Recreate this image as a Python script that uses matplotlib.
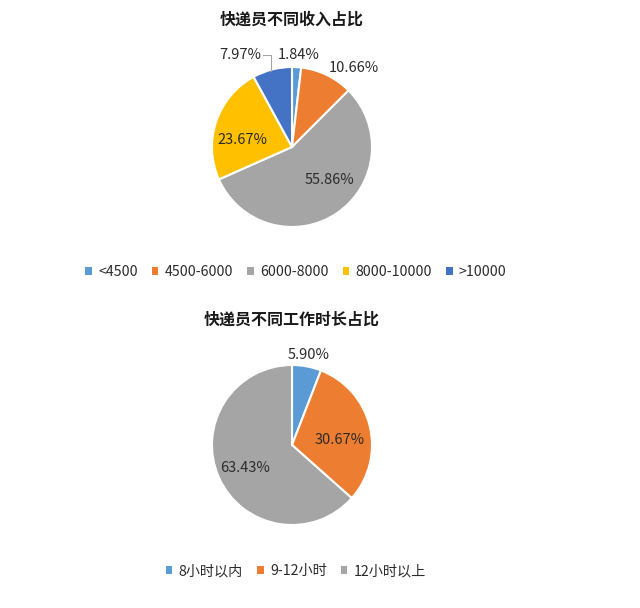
import numpy as np
import matplotlib
matplotlib.use("Agg")
import matplotlib.pyplot as plt
from matplotlib.patches import Patch

plt.rcParams['font.family'] = ['Noto Sans CJK SC', 'DejaVu Sans']

# data
income_title = "快递员不同收入占比"
income_labels = ["<4500", "4500-6000", "6000-8000", "8000-10000", ">10000"]
income_pct = [1.84, 10.66, 55.86, 23.67, 7.97]

hours_title = "快递员不同工作时长占比"
hours_labels = ["8小时以内", "9-12小时", "12小时以上"]
hours_pct = [5.90, 30.67, 63.43]

colors = ["#5B9BD5", "#ED7D31", "#A5A5A5", "#FFC000", "#4472C4"]

# label placement (radius, angle nudge in degrees) per slice
income_lbl = [(1.15, -0.7), (1.25, -12.3), (0.62, 14), (0.63, 10.3), (1.32, 15)]
hours_lbl = [(1.14, 0), (0.6, -7.6), (0.66, 2.2)]

W, H = 640, 608
TXT = "#2b2b2b"
fig = plt.figure(figsize=(W / 100, H / 100), dpi=100)


def draw_pie(cx, cy, r, values, names, lbl, title, title_y, legend_y, leader=None):
    ax = fig.add_axes([(cx - r) / W, 1 - (cy + r) / H, 2 * r / W, 2 * r / H])
    wedges, _ = ax.pie(values, colors=colors[:len(values)], startangle=90,
                       counterclock=False,
                       wedgeprops=dict(edgecolor="white", linewidth=1.5))
    ax.set_xlim(-1, 1)
    ax.set_ylim(-1, 1)
    ax.set_aspect("equal")
    for i, w in enumerate(wedges):
        mid = np.deg2rad((w.theta1 + w.theta2) / 2)
        dist, nudge = lbl[i]
        a = mid + np.deg2rad(nudge)
        x, y = dist * np.cos(a), dist * np.sin(a)
        ax.text(x, y, f"{values[i]:.2f}%", ha="center", va="center",
                fontsize=10.5, color=TXT, clip_on=False)
        if leader is not None and i == leader:
            ex, ey = np.cos(mid), 0.98 * np.sin(mid)
            ax.plot([x + 0.28, ex - 0.01, ex - 0.01], [y, y, ey],
                    color="#A5A5A5", lw=0.8, clip_on=False)
    fig.text(cx / W, 1 - title_y / H, title, ha="center", va="center",
             fontsize=11.5, fontweight="bold", color="#1a1a1a")
    handles = [Patch(facecolor=colors[i], label=n) for i, n in enumerate(names)]
    fig.legend(handles=handles, loc="center", bbox_to_anchor=(296 / W, 1 - legend_y / H),
               ncol=len(names), frameon=False, fontsize=10.2, handlelength=0.45,
               handleheight=0.45, handletextpad=0.45, columnspacing=1.0,
               labelcolor=TXT)


draw_pie(292, 147, 80, income_pct, income_labels, income_lbl,
         income_title, 20, 272, leader=4)
draw_pie(292, 445, 80, hours_pct, hours_labels, hours_lbl,
         hours_title, 320, 571)

fig.savefig("out.png", dpi=100, facecolor="white")
